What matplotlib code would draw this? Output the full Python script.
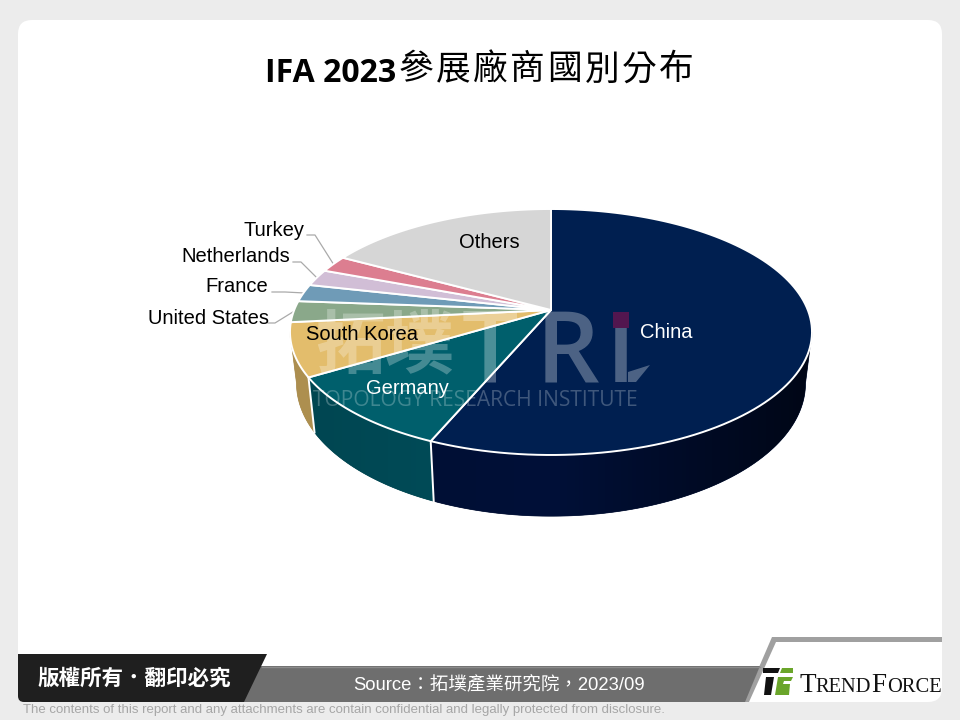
import numpy as np
import matplotlib
matplotlib.use("Agg")
import matplotlib.pyplot as plt
from matplotlib.colors import to_rgb
from matplotlib.patches import FancyBboxPatch, Polygon, Rectangle

plt.rcParams['font.family'] = ['Liberation Sans', 'Noto Sans CJK TC', 'DejaVu Sans']
CJK = ['Noto Sans CJK TC', 'DejaVu Sans']

# share of exhibitors (%), clockwise from 12 o'clock
labels = ["China", "Germany", "South Korea", "United States", "France", "Netherlands", "Turkey", "Others"]
values = [56.4, 10.0, 7.0, 2.8, 2.3, 2.2, 2.2, 17.1]
top_colors = ["#001f50", "#005f6c", "#e3bd6c", "#8aa88a", "#6f9bb7", "#d1bed6", "#dc7e90", "#d6d6d6"]
wall_colors = ["#001038", "#004f5c", "#c4a25a", "#74906f", "#5c8299", "#b0a0b4", "#b86a78", "#b4b4b4"]

# pie perspective, pixels
cx, cy = 551, 310
R, A, K = 256.8, 119.06, 0.1788
depth_sx, depth_sy, depth_d = 0.975, 1.08, 49.6


def rim(deg):
    t = np.radians(deg)
    u, v = np.sin(t), np.cos(t)
    return R * u / (1 + K * v), A * v / (1 + K * v)


def top_xy(deg):
    X, Y = rim(deg)
    return cx + X, cy - Y


def bottom_xy(deg):
    X, Y = rim(deg)
    return cx + depth_sx * X, cy - (depth_sy * Y - depth_d)


fig = plt.figure(figsize=(9.6, 7.2), dpi=100, facecolor="#ececec")
ax = fig.add_axes([0, 0, 1, 1])
ax.set_xlim(0, 960)
ax.set_ylim(720, 0)
ax.axis("off")

# card
ax.add_patch(FancyBboxPatch((32, 34), 896, 654, boxstyle="round,pad=14,rounding_size=14",
                            mutation_scale=1, fc="white", ec="none", zorder=0))

ax.text(265, 82, "IFA 2023", fontsize=23, fontweight="bold", family=["Open Sans"] + CJK,
        va="baseline", ha="left", color="black")
for i, ch in enumerate("參展廠商國別分布"):
    ax.text(416 + i * 37.2, 70, ch, fontsize=25, family=CJK, va="center", ha="center",
            color="black", fontweight="medium")

# walls, shaded left to right across the picture
edges = np.concatenate([[0], np.cumsum(values)]) / np.sum(values) * 360
for i in range(len(values)):
    a0, a1 = max(edges[i], 100.3), min(edges[i + 1], 259.7)
    if a1 <= a0:
        continue
    seg = np.linspace(a0, a1, 150)
    xt, yt = top_xy(seg)
    xb, yb = bottom_xy(seg)
    px = np.r_[xt, xb[::-1]]
    py = np.r_[yt, yb[::-1]]
    base = np.array(to_rgb(wall_colors[i]))
    ax.fill(px, py, color=base * 0.85, lw=0.5, zorder=2)
    cols = np.linspace(px.min(), px.max(), 300)
    shade = np.where(cols > cx, 1 - 0.6 * (cols - cx) / R, 1 - 0.12 * (cx - cols) / R)
    grad = (shade[:, None] * base)[None, :, :]
    im = ax.imshow(grad, extent=(px.min(), px.max(), py.max(), py.min()), aspect="auto",
                   interpolation="nearest", zorder=2.5)
    im.set_clip_path(Polygon(np.c_[px, py], transform=ax.transData))
    if edges[i + 1] < 259.7:
        ex0, ey0 = top_xy(edges[i + 1])
        ex1, ey1 = bottom_xy(edges[i + 1])
        ax.plot([ex0, ex1], [ey0, ey1], color="white", lw=1.4, zorder=3)
ax.set_xlim(0, 960)
ax.set_ylim(720, 0)

# top faces
for i in range(len(values)):
    seg = np.linspace(edges[i], edges[i + 1], 120)
    x, y = top_xy(seg)
    ax.fill(np.r_[cx, x], np.r_[cy, y], fc=top_colors[i], ec="white", lw=1.4, zorder=4, joinstyle="round")

# watermark on top of the pie
wm = "white"
ax.text(385, 347, "拓墣", fontsize=50, fontweight="bold", family=CJK, color=wm, alpha=0.27,
        ha="center", va="center", zorder=5)
for ch, mx in [("T", 490), ("R", 568), ("\u0131", 621)]:
    ax.text(mx, 382, ch, fontsize=72, fontweight="semibold", family=["Open Sans"], color=wm, alpha=0.3,
            ha="center", va="baseline", zorder=5)
ax.add_patch(Polygon([(628, 372), (650, 365), (636, 382), (628, 382)], fc=wm, alpha=0.3, ec="none", zorder=5))
ax.add_patch(Rectangle((613, 312), 16, 16, fc="#52164f", ec="none", zorder=6))
ax.text(475, 400, "TOPOLOGY RESEARCH INSTITUTE", fontsize=15.1, family=["Open Sans"], color=wm,
        alpha=0.25, ha="center", va="center", zorder=5)

# labels
ax.text(666, 333, labels[0], fontsize=14.5, color="white", ha="center", va="center", zorder=7)
ax.text(407, 389, labels[1], fontsize=14.5, color="white", ha="center", va="center", zorder=7)
ax.text(362, 335, labels[2], fontsize=14.5, color="black", ha="center", va="center", zorder=7)
ax.text(269, 318, labels[3], fontsize=14.5, color="black", ha="right", va="center", zorder=7)
ax.text(268, 287, labels[4], fontsize=14.5, color="black", ha="right", va="center", zorder=7)
ax.text(290, 257, labels[5], fontsize=14.5, color="black", ha="right", va="center", zorder=7)
ax.text(304, 230, labels[6], fontsize=14.5, color="black", ha="right", va="center", zorder=7)
ax.text(489, 242, labels[7], fontsize=14.5, color="black", ha="center", va="center", zorder=7)

# leader lines
lead = "#aaaaaa"
for i, lx, bx, by in [(3, 268, 275, 323), (4, 272, 285, 292), (5, 293, 301, 262), (6, 307, 315, 235)]:
    px, py = top_xy((edges[i] + edges[i + 1]) / 2)
    ax.plot([lx, bx, px], [by, by, py], color=lead, lw=0.9, zorder=3)

# footer
ax.add_patch(Polygon([(772, 637), (942, 637), (942, 642), (776, 642), (749, 702), (744, 702)],
                     fc="#a0a0a0", ec="none", zorder=8))
ax.add_patch(Polygon([(240, 666), (760, 666), (745, 702), (240, 702)], fc="#6e6e6e", ec="none", zorder=8))
ax.plot([262, 760], [666.5, 666.5], color="#8c8c8c", lw=1, zorder=8)
ax.add_patch(FancyBboxPatch((24, 660), 206, 36, boxstyle="round,pad=6,rounding_size=6",
                            mutation_scale=1, fc="#1f1f1f", ec="none", zorder=9))
ax.add_patch(Polygon([(200, 654), (267, 654), (244, 702), (200, 702)], fc="#1f1f1f", ec="none", zorder=9))
ax.add_patch(Rectangle((18, 654), 30, 20, fc="#1f1f1f", ec="none", zorder=9))

ax.text(134, 678, "版權所有．翻印必究", fontsize=15.5, fontweight="bold", family=CJK, color="white",
        ha="center", va="center", zorder=10)
ax.text(499, 685, "Source：拓墣產業研究院，2023/09", fontsize=13.3, color="white",
        ha="center", va="center", zorder=10)
ax.text(23, 710, "The contents of this report and any attachments are contain confidential and legally protected from disclosure.",
        fontsize=9.52, color="#a6a6a6", ha="left", va="center", zorder=10)

# logo
ax.add_patch(Polygon([(763, 668), (780, 668), (778, 673), (763, 673)], fc="#111111", ec="none", zorder=10))
ax.add_patch(Polygon([(782, 668), (793, 668), (793, 673), (780, 673)], fc="#6aa52a", ec="none", zorder=10))
ax.add_patch(Polygon([(766, 677), (774, 677), (771, 695), (764, 695)], fc="#111111", ec="none", zorder=10))
ax.add_patch(Polygon([(778, 677), (793, 677), (791, 681), (784, 681), (783, 684), (790, 684),
                      (789, 695), (775, 695)], fc="#6aa52a", ec="none", zorder=10))
fig.canvas.draw()
rend = fig.canvas.get_renderer()
x_pos = 799
for part, size in [("T", 19.5), ("REND", 14.8), ("F", 19.5), ("ORCE", 14.8)]:
    t = ax.text(x_pos, 692, part, fontsize=size, family=["Liberation Serif"], color="#111111",
                ha="left", va="baseline", zorder=10)
    x_pos += t.get_window_extent(rend).width + 0.3

fig.savefig("out.png", dpi=100, facecolor=fig.get_facecolor())
